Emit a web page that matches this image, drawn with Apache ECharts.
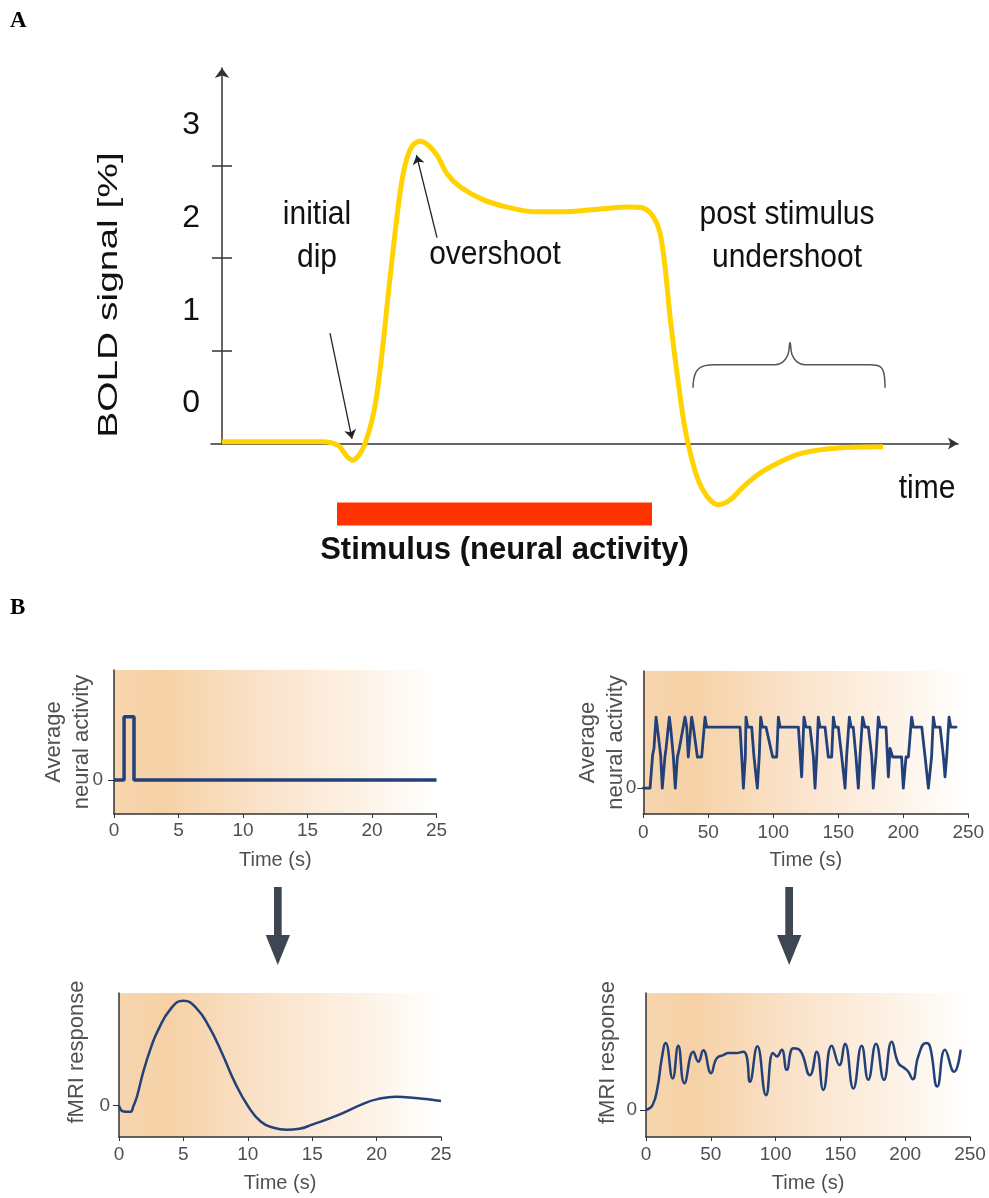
<!DOCTYPE html>
<html>
<head>
<meta charset="utf-8">
<title>BOLD response</title>
<script src="https://cdn.jsdelivr.net/npm/echarts/dist/echarts.min.js"></script>
<style>
  html, body { margin: 0; padding: 0; background: #fff; }
  #main { width: 989px; height: 1198px; }
</style>
</head>
<body>
<div id="main"></div>
<script>
// ---- panel A : BOLD signal (arbitrary time units) ----
const boldT = [0, 5, 10, 11.6, 12.5, 13.1, 13.8, 14.3, 15.0, 15.5, 16.0, 16.5, 17.0, 17.5, 18.0, 18.5, 19.1, 19.8, 20.6, 21.5, 22.5, 23.8, 26.1, 28.5, 31.1, 34.5, 37.8, 40.8, 42.1, 43.1, 43.8, 44.3, 44.8, 45.5, 46.1, 46.6, 47.5, 48.5, 49.6, 50.8, 52.1, 53.8, 55.8, 57.8, 60.5, 63.1, 66.1];
const boldV = [0.02, 0.02, 0.02, -0.02, -0.14, -0.18, -0.11, 0.0, 0.25, 0.54, 0.97, 1.48, 1.98, 2.45, 2.84, 3.08, 3.22, 3.26, 3.22, 3.11, 2.91, 2.77, 2.63, 2.55, 2.5, 2.5, 2.53, 2.55, 2.54, 2.45, 2.27, 1.91, 1.37, 0.76, 0.29, 0.0, -0.36, -0.57, -0.66, -0.61, -0.47, -0.32, -0.2, -0.11, -0.06, -0.04, -0.035];
const stimulus = [11.5, 43.0];
const yTicks = [1, 2, 3];
const yLabels = [0.43, 1.43, 2.43, 3.43];
const dipArrow = [[10.8, 1.19], [13.0, 0.05]];
const overArrow = [[21.5, 2.22], [19.45, 3.11]];
const braceT = [47.1, 47.4, 48.3, 49.3, 55.3, 56.1, 56.6, 56.8, 57.0, 57.5, 58.3, 64.8, 65.8, 66.2, 66.3];
const braceV = [0.6, 0.77, 0.84, 0.85, 0.85, 0.88, 0.96, 1.09, 0.96, 0.88, 0.85, 0.85, 0.83, 0.75, 0.6];

// ---- panel B ----
const pulseT = [0, 0.78, 0.78, 1.55, 1.55, 25];
const pulseV = [0, 0, 1.86, 1.86, 0, 0];
const blockT = [0, 5.2, 5.9, 7.2, 8.2, 9.8, 10.8, 12.3, 13.4, 14.6, 15.4, 16.7, 17.5, 20.0, 21.0, 22.1, 23.1, 24.6, 26.2, 27.7, 32.1, 33.4, 34.6, 35.9, 37.2, 38.5, 39.8, 41.6, 44.9, 47.5, 48.7, 74.4, 75.7, 77.0, 78.5, 79.0, 80.3, 83.4, 85.1, 87.7, 89.2, 90.3, 91.6, 94.4, 99.5, 102.6, 103.9, 105.2, 119.3, 121.8, 123.6, 125.1, 128.2, 130.8, 132.1, 133.4, 134.6, 135.9, 139.8, 142.3, 144.9, 146.2, 147.5, 150.0, 152.6, 155.2, 156.4, 158.5, 159.8, 161.5, 163.6, 165.4, 166.7, 168.7, 170.5, 173.1, 175.7, 176.9, 179.0, 180.8, 182.1, 186.7, 188.5, 189.8, 191.8, 198.7, 200.0, 202.1, 203.9, 206.4, 207.7, 214.2, 216.7, 219.3, 221.8, 223.1, 224.4, 228.3, 230.8, 232.1, 233.4, 235.2, 236.5, 240.6];
const blockV = [0, 0, 0, 1.1, 1.3, 2.33, 2.0, 2.0, 1.05, 0, 0, 1.05, 1.3, 2.33, 2.0, 2.0, 1.05, 0, 1.0, 1.3, 2.33, 2.0, 1.02, 1.02, 2.33, 2.0, 2.0, 1.02, 1.02, 2.33, 2.0, 2.0, 1.05, 0, 1.05, 2.33, 2.0, 2.0, 1.05, 0, 1.05, 2.33, 2.0, 2.0, 1.02, 1.02, 2.33, 2.0, 2.0, 0.37, 2.33, 2.0, 2.0, 1.05, 0, 1.05, 2.33, 2.0, 2.0, 1.02, 1.02, 2.33, 2.0, 2.0, 1.05, 0, 1.05, 2.33, 2.0, 2.0, 1.02, 0, 1.05, 2.33, 2.0, 2.0, 1.05, 0, 1.05, 2.33, 2.0, 2.0, 0.37, 1.3, 1.02, 1.02, 0, 1.02, 1.02, 2.33, 2.0, 2.0, 1.05, 0, 1.05, 2.33, 2.0, 2.0, 1.05, 0.37, 1.05, 2.33, 2.0, 2.0];
const hrfT = [0, 0.35, 0.9, 1.1, 1.4, 1.9, 2.5, 3, 4, 5, 6, 7, 8, 9, 10, 11, 12, 13, 14, 15, 17, 19, 20, 21.5, 23, 25];
const hrfV = [0, -0.055, -0.057, -0.01, 0.09, 0.33, 0.56, 0.71, 0.92, 1.0, 0.93, 0.75, 0.5, 0.22, 0.0, -0.15, -0.21, -0.23, -0.22, -0.18, -0.09, 0.02, 0.06, 0.085, 0.073, 0.045];
const respT = [0, 5, 9, 12, 15.2, 20.6, 24.9, 29.6, 36.5, 40.4, 44.2, 50.2, 54.5, 59.7, 63.5, 70, 75, 77.7, 80.2, 85.9, 92.6, 98, 101, 104.7, 108.6, 113.7, 118.8, 126.5, 131.7, 136.8, 143.3, 149.2, 153.5, 160, 166.4, 171.5, 177.5, 183.6, 189.6, 194.7, 199.8, 202.4, 205.8, 210.1, 216, 219.1, 224.8, 230.7, 237.7, 242.8];
const respV = [0, 0.07, 0.35, 0.75, 1.0, 0.47, 0.96, 0.4, 0.87, 0.72, 0.89, 0.55, 0.77, 0.82, 0.85, 0.85, 0.87, 0.8, 0.42, 0.95, 0.22, 0.85, 0.8, 0.9, 0.6, 0.92, 0.89, 0.52, 0.87, 0.3, 0.96, 0.67, 0.99, 0.32, 0.96, 0.45, 0.99, 0.45, 1.02, 0.7, 0.62, 0.57, 0.46, 0.8, 1.0, 0.95, 0.35, 0.9, 0.57, 0.9];

const zip = (a, b) => a.map((x, i) => [x, b[i]]);

const axisColor = '#333';
const grayText = '#505050';
const navy = '#22407A';
const font = 'Liberation Sans, Arial, sans-serif';

const bg = () => ({
  type: 'linear', x: 0, y: 0, x2: 1, y2: 0,
  colorStops: [
    { offset: 0, color: '#F7D5AE' },
    { offset: 0.15, color: '#F6D1A6' },
    { offset: 0.45, color: '#FAE2C9' },
    { offset: 0.75, color: '#FDF1E4' },
    { offset: 1, color: '#FFFFFF' }
  ]
});

function timeAxis(gridIndex, max, interval, labelMargin) {
  return {
    gridIndex: gridIndex,
    type: 'value',
    min: 0,
    max: max,
    interval: interval,
    name: 'Time (s)',
    nameLocation: 'middle',
    nameGap: 36,
    nameMoveOverlap: false,
    nameTextStyle: { fontSize: 20, color: grayText, fontFamily: font },
    axisLine: { show: true, onZero: false, lineStyle: { color: axisColor, width: 1.5 } },
    axisTick: { show: true, length: 4, lineStyle: { color: axisColor, width: 1 } },
    axisLabel: { show: true, fontSize: 19, color: grayText, margin: labelMargin, fontFamily: font },
    splitLine: { show: false }
  };
}

function responseAxis(gridIndex, min, max, name, gap, labelMargin, padding) {
  return {
    gridIndex: gridIndex,
    type: 'value',
    min: min,
    max: max,
    name: name,
    nameLocation: 'middle',
    nameRotate: 90,
    nameGap: gap,
    nameMoveOverlap: false,
    nameTextStyle: { fontSize: 22, lineHeight: 28, color: grayText, fontFamily: font, padding: padding },
    axisLine: { show: true, onZero: false, lineStyle: { color: axisColor, width: 1.5 } },
    axisTick: { show: true, customValues: [0], length: 6, lineStyle: { color: axisColor, width: 1 } },
    axisLabel: { show: true, customValues: [0], fontSize: 19, color: grayText, margin: labelMargin, fontFamily: font },
    splitLine: { show: false }
  };
}

const chart = echarts.init(document.getElementById('main'));

chart.setOption({
  animation: false,
  backgroundColor: '#fff',
  textStyle: { fontFamily: font },
  grid: [
    { left: 211, top: 68, width: 747, height: 468.2, containLabel: false, outerBoundsMode: 'none' },
    { left: 222, top: 68, width: 10, height: 375.5, containLabel: false, outerBoundsMode: 'none' },
    { left: 114, top: 670, width: 322.5, height: 144, show: true, borderWidth: 0, backgroundColor: bg(), containLabel: false, outerBoundsMode: 'none' },
    { left: 643.3, top: 671, width: 325, height: 143, show: true, borderWidth: 0, backgroundColor: bg(), containLabel: false, outerBoundsMode: 'none' },
    { left: 119, top: 993, width: 322, height: 144, show: true, borderWidth: 0, backgroundColor: bg(), containLabel: false, outerBoundsMode: 'none' },
    { left: 646, top: 993, width: 324, height: 144, show: true, borderWidth: 0, backgroundColor: bg(), containLabel: false, outerBoundsMode: 'none' }
  ],
  xAxis: [
    {
      gridIndex: 0,
      type: 'value',
      min: -1.1,
      max: 73.6,
      axisLine: {
        show: true,
        onZero: true,
        symbol: ['none', 'arrow'],
        symbolSize: [9, 10],
        lineStyle: { color: axisColor, width: 1.5 }
      },
      axisTick: { show: false },
      axisLabel: { show: false },
      splitLine: { show: false }
    },
    { gridIndex: 1, type: 'value', min: 0, max: 1, show: false },
    timeAxis(2, 25, 5, 7),
    timeAxis(3, 250, 50, 9),
    timeAxis(4, 25, 5, 8),
    timeAxis(5, 250, 50, 8)
  ],
  yAxis: [
    { gridIndex: 0, type: 'value', min: -1, max: 4.05, show: false },
    {
      gridIndex: 1,
      type: 'value',
      position: 'left',
      min: 0,
      max: 4.05,
      axisLine: {
        show: true,
        onZero: false,
        symbol: ['none', 'arrow'],
        symbolSize: [11, 10],
        lineStyle: { color: axisColor, width: 1.5 }
      },
      axisTick: { show: true, customValues: yTicks, length: 10, lineStyle: { color: axisColor, width: 1.5 } },
      axisLabel: {
        show: true,
        customValues: yLabels,
        formatter: v => String(Math.floor(v)),
        fontSize: 32,
        color: '#111',
        margin: 22
      },
      splitLine: { show: false }
    },
    {
      gridIndex: 1,
      type: 'value',
      position: 'left',
      min: 0,
      max: 4.05,
      axisLine: { show: false },
      axisTick: { show: true, inside: true, customValues: yTicks, length: 10, lineStyle: { color: axisColor, width: 1.5 } },
      axisLabel: { show: false },
      splitLine: { show: false }
    },
    responseAxis(2, -1, 3.24, 'Average\nneural activity', 18, 11, [0, 0, 0, 0]),
    responseAxis(3, -0.85, 3.84, 'Average\nneural activity', 13, 7, [0, 0, 0, 0]),
    responseAxis(4, -0.298, 1.073, 'fMRI response', 28, 9, [0, 0, 0, 26]),
    responseAxis(5, -0.403, 1.746, 'fMRI response', 24, 9, [0, 0, 0, 25])
  ],
  series: [
    {
      name: 'BOLD',
      type: 'line',
      xAxisIndex: 0,
      yAxisIndex: 0,
      data: zip(boldT, boldV),
      smooth: 0.3,
      showSymbol: false,
      clip: false,
      lineStyle: { color: '#FFD200', width: 5 },
      markLine: {
        silent: true,
        animation: false,
        symbol: ['none', 'arrow'],
        symbolSize: 9,
        label: { show: false },
        lineStyle: { color: '#222', width: 1.3, type: 'solid' },
        data: [
          [{ coord: dipArrow[0] }, { coord: dipArrow[1] }],
          [{ coord: overArrow[0] }, { coord: overArrow[1] }]
        ]
      },
      markArea: {
        silent: true,
        itemStyle: { color: '#FF3300' },
        label: {
          show: true,
          position: 'bottom',
          distance: 9,
          offset: [10, 0],
          formatter: 'Stimulus (neural activity)',
          fontSize: 31,
          fontWeight: 'bold',
          color: '#111'
        },
        data: [[{ coord: [stimulus[0], -0.636] }, { coord: [stimulus[1], -0.885] }]]
      }
    },
    {
      name: 'undershoot brace',
      type: 'line',
      xAxisIndex: 0,
      yAxisIndex: 0,
      data: zip(braceT, braceV),
      smooth: 0.4,
      showSymbol: false,
      lineStyle: { color: '#555', width: 1.5 }
    },
    {
      name: 'single event',
      type: 'line',
      xAxisIndex: 2,
      yAxisIndex: 3,
      data: zip(pulseT, pulseV),
      showSymbol: false,
      lineStyle: { color: navy, width: 3.5 }
    },
    {
      name: 'event train',
      type: 'line',
      xAxisIndex: 3,
      yAxisIndex: 4,
      data: zip(blockT, blockV),
      showSymbol: false,
      lineStyle: { color: navy, width: 2.8, join: 'round', cap: 'round' }
    },
    {
      name: 'hrf',
      type: 'line',
      xAxisIndex: 4,
      yAxisIndex: 5,
      data: zip(hrfT, hrfV),
      smooth: 0.5,
      showSymbol: false,
      lineStyle: { color: navy, width: 2.5 }
    },
    {
      name: 'response',
      type: 'line',
      xAxisIndex: 5,
      yAxisIndex: 6,
      data: zip(respT, respV),
      smooth: 0.5,
      showSymbol: false,
      lineStyle: { color: navy, width: 2.5 }
    }
  ],
  graphic: [
    { type: 'text', left: 10, top: 10, style: { text: 'A', fontSize: 23, fontWeight: 'bold', fontFamily: 'Liberation Serif', fill: '#000' } },
    { type: 'text', left: 10, top: 597, style: { text: 'B', fontSize: 23, fontWeight: 'bold', fontFamily: 'Liberation Serif', fill: '#000' } },
    {
      type: 'text', x: 109, y: 295, rotation: Math.PI / 2, scaleX: 1.39,
      style: { text: 'BOLD signal [%]', fontSize: 28, fontFamily: font, fill: '#111', align: 'center', verticalAlign: 'middle', textAlign: 'center', textVerticalAlign: 'middle' }
    },
    {
      type: 'text', x: 317, y: 236, scaleY: 1.12,
      style: { text: 'initial\ndip', fontSize: 30, lineHeight: 38, fontFamily: font, fill: '#111', align: 'center', verticalAlign: 'middle', textAlign: 'center', textVerticalAlign: 'middle' }
    },
    {
      type: 'text', x: 495, y: 255, scaleY: 1.12,
      style: { text: 'overshoot', fontSize: 30, fontFamily: font, fill: '#111', align: 'center', verticalAlign: 'middle', textAlign: 'center', textVerticalAlign: 'middle' }
    },
    {
      type: 'text', x: 787, y: 236, scaleY: 1.12,
      style: { text: 'post stimulus\nundershoot', fontSize: 30, lineHeight: 38, fontFamily: font, fill: '#111', align: 'center', verticalAlign: 'middle', textAlign: 'center', textVerticalAlign: 'middle' }
    },
    {
      type: 'text', x: 927, y: 489, scaleY: 1.12,
      style: { text: 'time', fontSize: 30, fontFamily: font, fill: '#111', align: 'center', verticalAlign: 'middle', textAlign: 'center', textVerticalAlign: 'middle' }
    },
    // arrows from neural activity to fMRI response
    { type: 'rect', shape: { x: 274, y: 887, width: 7.7, height: 49 }, style: { fill: '#3E4751' } },
    { type: 'polygon', shape: { points: [[265.7, 935], [290, 935], [277.8, 965]] }, style: { fill: '#3E4751' } },
    { type: 'rect', shape: { x: 785.3, y: 887, width: 7.7, height: 49 }, style: { fill: '#3E4751' } },
    { type: 'polygon', shape: { points: [[777, 935], [801.4, 935], [789.2, 965]] }, style: { fill: '#3E4751' } }
  ]
});
</script>
</body>
</html>
